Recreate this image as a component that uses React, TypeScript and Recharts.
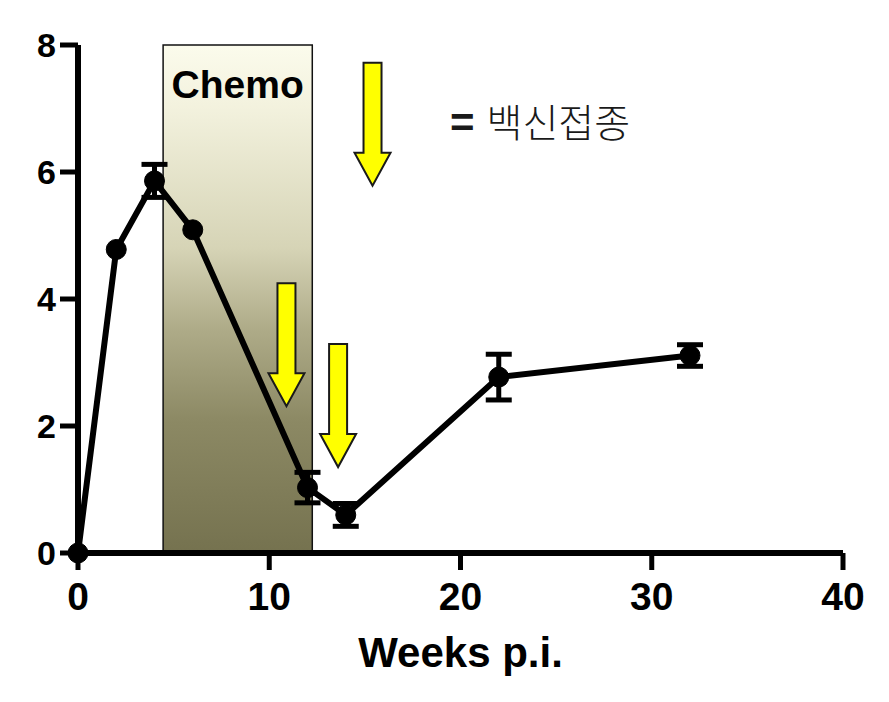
import {
  LineChart,
  Line,
  XAxis,
  YAxis,
  ErrorBar,
  ReferenceArea,
  ReferenceDot,
  Label,
} from 'recharts';

const weeks = [0, 2, 4, 6, 12, 14, 22, 32];
const values = [0, 4.78, 5.86, 5.09, 1.03, 0.6, 2.77, 3.11];
const errors = [0, 0, 0.26, 0, 0.24, 0.18, 0.36, 0.17];

const xTicks = [0, 10, 20, 30, 40];
const yTicks = [0, 2, 4, 6, 8];

// chemo period (weeks)
const chemoStart = 4.45;
const chemoEnd = 12.25;

// vaccination arrows: x position and top of arrow (data units)
const arrowWeeks = [10.9, 13.6, 15.4];
const arrowTops = [4.25, 3.29, 7.72];

const FONT = '"Liberation Sans", Arial, Helvetica, sans-serif';

const data = weeks.map((w, i) => ({
  week: w,
  value: values[i],
  err: errors[i] || null,
}));

const Arrow = (props: any) => {
  const { cx, cy } = props;
  if (cx == null || cy == null) return null;
  const len = 123;
  const shaft = 9;
  const head = 18;
  const headH = 33;
  const pts = [
    [cx - shaft, cy],
    [cx + shaft, cy],
    [cx + shaft, cy + len - headH],
    [cx + head, cy + len - headH],
    [cx, cy + len],
    [cx - head, cy + len - headH],
    [cx - shaft, cy + len - headH],
  ]
    .map((p) => p.join(','))
    .join(' ');
  return <polygon points={pts} fill="#ffff00" stroke="#1a1a1a" strokeWidth={2} />;
};

const LegendNote = (props: any) => {
  const { cx, cy } = props;
  if (cx == null || cy == null) return null;
  return (
    <text x={cx} y={cy} fill="#1a1a1a">
      <tspan fontFamily={FONT} fontWeight="bold" fontSize={42}>
        =
      </tspan>
      <tspan
        dx={12}
        fontFamily='"Noto Sans CJK KR", "Noto Sans", sans-serif'
        fontWeight={300}
        fontSize={39}
      >
        백신접종
      </tspan>
    </text>
  );
};

export default function App() {
  return (
    <div style={{ position: 'absolute', left: 0, top: 0, width: 889, height: 702, background: '#fff' }}>
      <LineChart
        width={889}
        height={702}
        data={data}
        margin={{ top: 45, right: 46, bottom: 35, left: 0 }}
      >
        <defs>
          <linearGradient id="chemoFill" x1="0" y1="0" x2="0" y2="1">
            <stop offset="0" stopColor="#fbfbec" />
            <stop offset="0.12" stopColor="#f3f2de" />
            <stop offset="0.4" stopColor="#d6d4b6" />
            <stop offset="0.56" stopColor="#aeab88" />
            <stop offset="0.74" stopColor="#8c8964" />
            <stop offset="1" stopColor="#75724f" />
          </linearGradient>
        </defs>
        <ReferenceArea
          x1={chemoStart}
          x2={chemoEnd}
          y1={0}
          y2={8}
          fill="url(#chemoFill)"
          fillOpacity={1}
          stroke="#111"
          strokeWidth={1.5}
          label={{
            value: 'Chemo',
            position: 'insideTop',
            offset: 25,
            fill: '#000',
            fontSize: 39,
            fontWeight: 'bold',
            fontFamily: FONT,
          }}
        />
        <XAxis
          type="number"
          dataKey="week"
          domain={[0, 40]}
          ticks={xTicks}
          height={114}
          tickSize={17}
          tickMargin={12}
          axisLine={{ stroke: '#000', strokeWidth: 6 }}
          tickLine={{ stroke: '#000', strokeWidth: 5 }}
          tick={{ fill: '#000', fontSize: 39, fontWeight: 'bold', fontFamily: FONT }}
        >
          <Label
            value="Weeks p.i."
            position="insideBottom"
            offset={0}
            fill="#000"
            fontSize={42}
            fontWeight="bold"
            fontFamily={FONT}
          />
        </XAxis>
        <YAxis
          type="number"
          domain={[0, 8]}
          ticks={yTicks}
          width={78}
          tickSize={18}
          tickMargin={4}
          axisLine={{ stroke: '#000', strokeWidth: 6 }}
          tickLine={{ stroke: '#000', strokeWidth: 5 }}
          tick={{ fill: '#000', fontSize: 34, fontWeight: 'bold', fontFamily: FONT }}
        />
        <Line
          type="linear"
          dataKey="value"
          stroke="#000"
          strokeWidth={6}
          dot={{ r: 10, fill: '#000', stroke: '#000', strokeWidth: 1 }}
          isAnimationActive={false}
        >
          <ErrorBar dataKey="err" direction="y" width={13} stroke="#000" strokeWidth={5} />
        </Line>
        {arrowWeeks.map((w, i) => (
          <ReferenceDot key={`arrow-${i}`} x={w} y={arrowTops[i]} r={0} shape={Arrow} />
        ))}
        <ReferenceDot x={19.45} y={6.55} r={0} shape={LegendNote} />
      </LineChart>
    </div>
  );
}
